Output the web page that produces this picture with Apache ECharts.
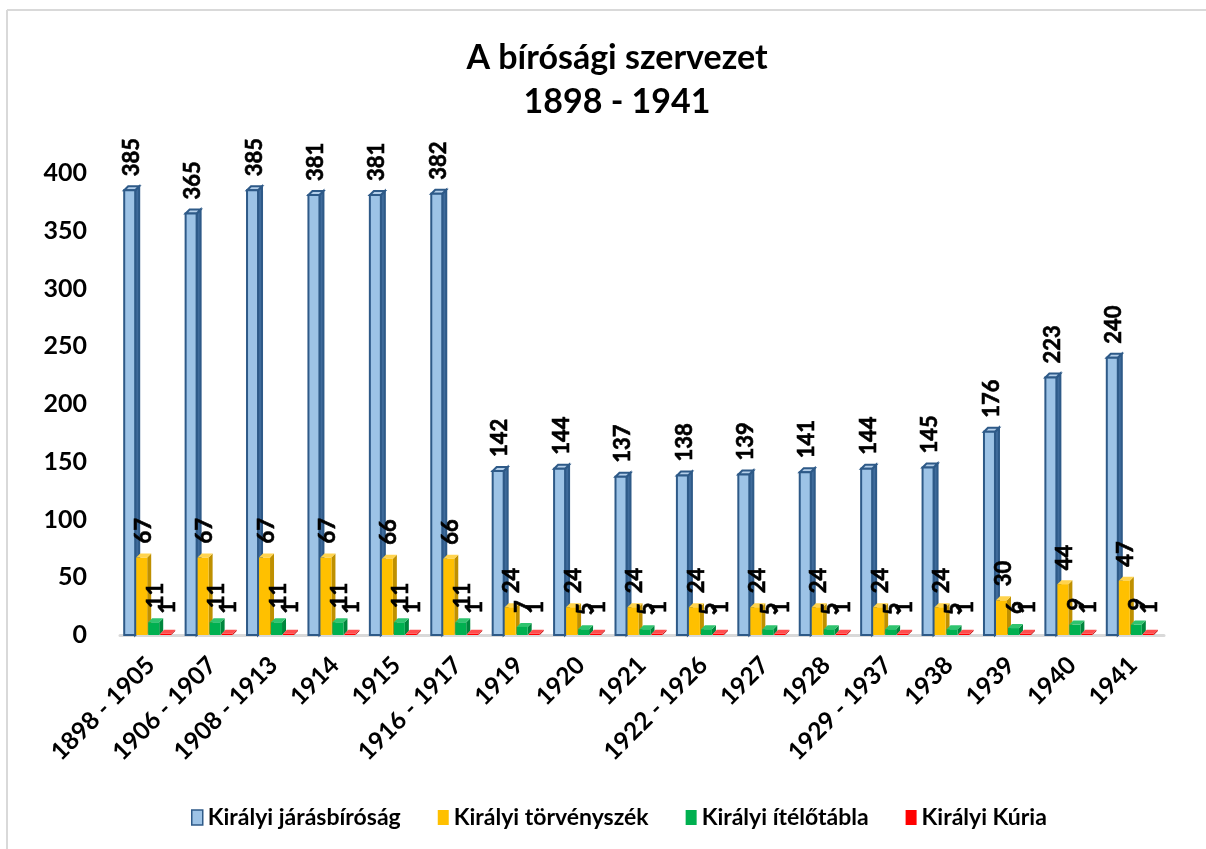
<!DOCTYPE html>
<html>
<head>
<meta charset="utf-8">
<title>A bírósági szervezet</title>
<script src="https://cdn.jsdelivr.net/npm/echarts@6/dist/echarts.min.js"></script>
<style>
  html, body { margin: 0; padding: 0; background: #fff; }
  #chart { width: 1206px; height: 849px; }
</style>
</head>
<body>
<div id="chart"></div>
<script>
var periods = ['1898 - 1905', '1906 - 1907', '1908 - 1913', '1914', '1915', '1916 - 1917',
  '1919', '1920', '1921', '1922 - 1926', '1927', '1928', '1929 - 1937', '1938', '1939', '1940', '1941'];
var seriesNames = ['Királyi járásbíróság', 'Királyi törvényszék', 'Királyi ítélőtábla', 'Királyi Kúria'];
var jarasbirosag = [385, 365, 385, 381, 381, 382, 142, 144, 137, 138, 139, 141, 144, 145, 176, 223, 240];
var torvenyszek = [67, 67, 67, 67, 66, 66, 24, 24, 24, 24, 24, 24, 24, 24, 30, 44, 47];
var itelotabla = [11, 11, 11, 11, 11, 11, 7, 5, 5, 5, 5, 5, 5, 5, 6, 9, 9];
var kuria = [1, 1, 1, 1, 1, 1, 1, 1, 1, 1, 1, 1, 1, 1, 1, 1, 1];
var yTicks = [0, 50, 100, 150, 200, 250, 300, 350, 400];

var chart = echarts.init(document.getElementById('chart'));

// front / side / top colours of the fake 3d columns
var faces = [
  { front: '#9dc3e6', side: '#3f6b9b', top: '#b4cfea', stroke: '#2e5a88' },
  { front: '#ffc000', side: '#bf9000', top: '#ffd34d', stroke: null },
  { front: '#00b050', side: '#00873d', top: '#2fc46f', stroke: null },
  { front: '#ff0000', side: '#c00000', top: '#ff4d4d', stroke: null }
];
var labelGap = [14, 14, 14, 20];

function makeRender(si) {
  return function (params, api) {
    var idx = api.value(0), val = api.value(1);
    var top = api.coord([idx, val]);
    var bot = api.coord([idx, 0]);
    var w = 11, dx = 4, dy = 4;
    var left = top[0] - 26.5 + si * 12;
    var right = left + w;
    var f = faces[si];
    var lw = f.stroke ? 2 : 0;
    var st = f.stroke || null;
    var children = [
      {
        type: 'polygon',
        shape: { points: [[right, top[1]], [right + dx, top[1] - dy], [right + dx, bot[1] - dy], [right, bot[1]]] },
        style: { fill: f.side, stroke: st, lineWidth: lw }
      },
      {
        type: 'polygon',
        shape: { points: [[left, top[1]], [left + dx, top[1] - dy], [right + dx, top[1] - dy], [right, top[1]]] },
        style: { fill: f.top, stroke: st, lineWidth: lw }
      },
      {
        type: 'rect',
        shape: { x: left, y: top[1], width: w, height: bot[1] - top[1] },
        style: { fill: f.front, stroke: st, lineWidth: lw }
      },
      {
        type: 'text',
        x: left + w / 2 + 2,
        y: top[1] - labelGap[si],
        rotation: Math.PI / 2,
        style: {
          text: String(val),
          fill: '#000',
          font: '700 22px Lato',
          fontFamily: 'Lato',
          fontWeight: 700,
          fontSize: 22,
          stroke: '#000',
          lineWidth: 0.6,
          align: 'left',
          verticalAlign: 'middle'
        }
      }
    ];
    return { type: 'group', children: children };
  };
}

var allValues = [jarasbirosag, torvenyszek, itelotabla, kuria];
var series = allValues.map(function (vals, si) {
  return {
    name: seriesNames[si],
    type: 'custom',
    renderItem: makeRender(si),
    itemStyle: { color: faces[si].front },
    encode: { x: 0, y: 1 },
    clip: false,
    z: 2 + si,
    data: vals.map(function (v, i) { return [i, v]; })
  };
});

var option = {
  backgroundColor: '#fff',
  animation: false,
  title: {
    text: 'A bírósági szervezet\n1898 - 1941',
    left: 612,
    textAlign: 'center',
    top: 31,
    textStyle: { fontFamily: 'Lato', fontWeight: 'bold', fontSize: 34, lineHeight: 44, color: '#000' }
  },
  graphic: [
    { type: 'line', shape: { x1: 7, y1: 10, x2: 7, y2: 849 }, style: { stroke: '#d9d9d9', lineWidth: 2 } },
    { type: 'line', shape: { x1: 7, y1: 10, x2: 1206, y2: 10 }, style: { stroke: '#d9d9d9', lineWidth: 2 } }
  ],
  legend: {
    bottom: 15,
    left: 186,
    itemGap: 37,
    itemWidth: 11,
    itemHeight: 15,
    icon: 'rect',
    textStyle: { fontFamily: 'Lato', fontWeight: 'bold', fontSize: 23, color: '#000' },
    data: seriesNames.map(function (n, i) {
      return {
        name: n,
        itemStyle: { color: faces[i].front, borderColor: faces[i].stroke || faces[i].front, borderWidth: faces[i].stroke ? 1.5 : 0 }
      };
    })
  },
  grid: { left: 120, right: 42, top: 173, bottom: 214 },
  xAxis: {
    type: 'category',
    data: periods,
    axisLine: { show: true, lineStyle: { color: '#d9d9d9', width: 3 } },
    axisTick: { show: false },
    axisLabel: {
      interval: 0,
      rotate: 45,
      margin: 26,
      fontFamily: 'Lato',
      fontWeight: 'bold',
      fontSize: 24.5,
      color: '#000'
    }
  },
  yAxis: {
    type: 'value',
    min: yTicks[0],
    max: yTicks[yTicks.length - 1],
    interval: yTicks[1] - yTicks[0],
    axisLine: { show: false },
    axisTick: { show: false },
    splitLine: { show: false },
    axisLabel: {
      margin: 33,
      fontFamily: 'Lato',
      fontWeight: 'bold',
      fontSize: 25,
      color: '#000'
    }
  },
  series: series
};

chart.setOption(option);
</script>
</body>
</html>
